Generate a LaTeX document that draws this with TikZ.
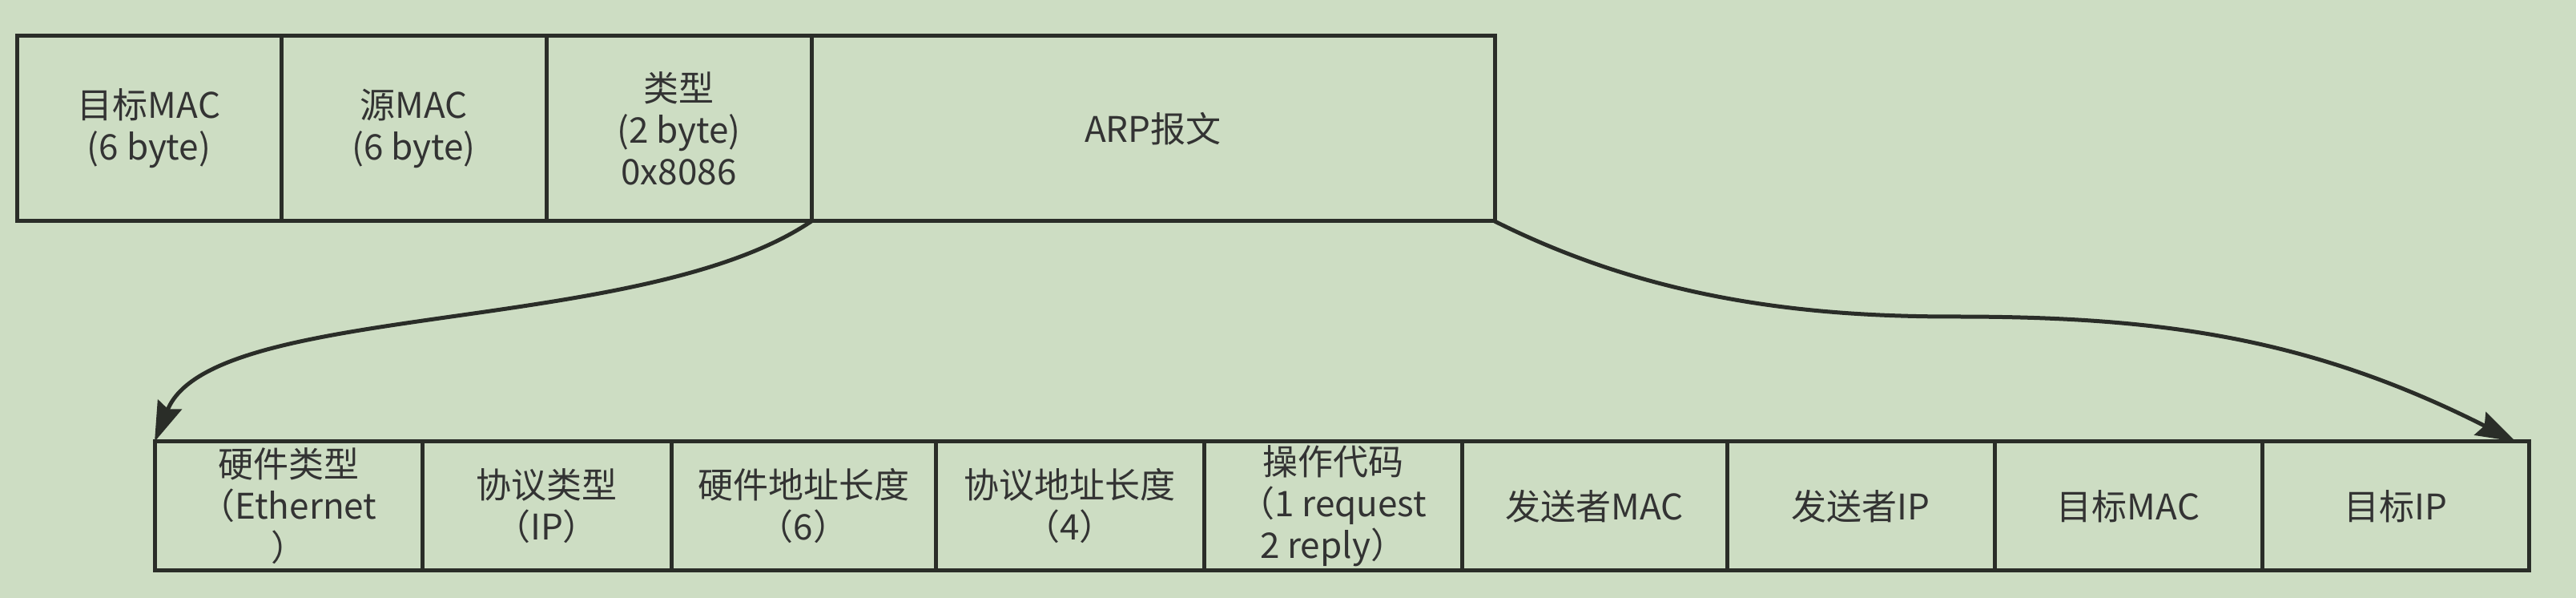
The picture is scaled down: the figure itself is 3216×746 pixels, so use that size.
\documentclass[tikz,border=0pt]{standalone}
\usepackage{fontspec}
\newfontfamily\cjk{Noto Sans CJK SC}
\usetikzlibrary{arrows.meta}
\definecolor{hgruen}{HTML}{CDDDC3}
\definecolor{linie}{HTML}{2A2D28}
\definecolor{schrift}{HTML}{333333}

\begin{document}
\begin{tikzpicture}[x=0.25pt, y=-0.25pt,
	feld/.style={draw=linie, line width=1.25pt, inner sep=0pt, outer sep=0pt,
		align=center, text=schrift, font=\cjk\fontsize{11}{13}\selectfont},
	pfeil/.style={draw=linie, line width=1.25pt,
		-{Stealth[length=12.5pt, width=8pt, inset=1.5pt]}}]
	\fill[hgruen] (0,0) rectangle (3216,746);
	\useasboundingbox (0,0) rectangle (3216,746);

	% Ethernet-Rahmen oben
	\node[feld, minimum width=82.5pt, minimum height=57.75pt] (ziel) at (186, 160.5)
		{目标MAC\\(6 byte)};
	\node[feld, minimum width=82.75pt, minimum height=57.75pt] (quelle) at (516.5, 160.5)
		{源MAC\\(6 byte)};
	\node[feld, minimum width=82.75pt, minimum height=57.75pt] (typ) at (847.5, 160.5)
		{类型\\(2 byte)\\0x8086};
	\node[feld, minimum width=213.25pt, minimum height=57.75pt] (arp) at (1439.5, 160.5)
		{ARP报文};

	% ARP-Felder unten
	\node[feld, minimum width=83.5pt, minimum height=40.25pt] (hwtyp) at (360, 631.5)
		{硬件类型\\（Ethernet\\）};
	\node[feld, minimum width=77.75pt, minimum height=40.25pt] (prtyp) at (682.5, 631.5)
		{协议类型\\（IP）};
	\node[feld, minimum width=82.5pt, minimum height=40.25pt] (hwlen) at (1003, 631.5)
		{硬件地址长度\\（6）};
	\node[feld, minimum width=83.75pt, minimum height=40.25pt] (prlen) at (1335.5, 631.5)
		{协议地址长度\\（4）};
	\node[feld, minimum width=80.5pt, minimum height=40.25pt] (opcode) at (1664, 631.5)
		{操作代码\\（1 request\\2 reply）};
	\node[feld, minimum width=82.75pt, minimum height=40.25pt] (sendmac) at (1990.5, 631.5)
		{发送者MAC};
	\node[feld, minimum width=83.5pt, minimum height=40.25pt] (sendip) at (2323, 631.5)
		{发送者IP};
	\node[feld, minimum width=83.5pt, minimum height=40.25pt] (zielmac) at (2657, 631.5)
		{目标MAC};
	\node[feld, minimum width=83.25pt, minimum height=40.25pt] (zielip) at (2990.5, 631.5)
		{目标IP};

	% Pfeile
	\draw[pfeil] (typ.south east) .. controls (800, 420) and (265, 375) .. (hwtyp.north west);
	\coordinate (mitte) at (2440, 395);
	\draw[pfeil] (arp.south east) .. controls (2060, 373) and (2250, 395) .. (mitte)
		.. controls (2690, 395) and (2880, 419) .. ([xshift=-4pt]zielip.north east);
\end{tikzpicture}
\end{document}
